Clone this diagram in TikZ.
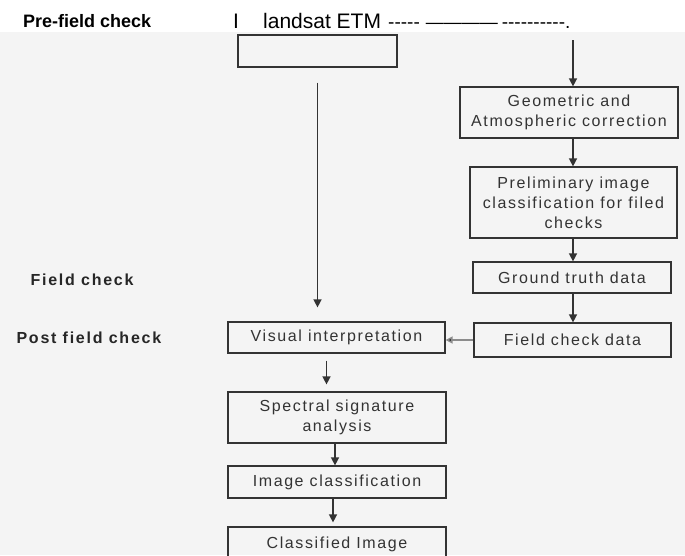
\documentclass[tikz,border=0pt]{standalone}
\usepackage{fontspec}
\setmainfont{Liberation Sans}
\newfontfamily\boxfont[LetterSpace=10]{Liberation Sans}
\newfontfamily\phasefont[LetterSpace=11]{Liberation Sans}
\usepackage{tikz}
\usetikzlibrary{arrows.meta}
\definecolor{scan}{HTML}{F4F4F4}
\definecolor{ink}{HTML}{333333}
\tikzset{
	stage/.style={draw=ink,line width=1.2pt,text=ink,align=center,inner sep=0pt,
		font=\boxfont\fontsize{16}{20}\selectfont},
	flow/.style={draw=ink,line width=1.4pt,-{Triangle[length=8pt,width=8pt]}},
	phase/.style={anchor=west,text=black!85,font=\phasefont\bfseries\fontsize{16}{20}\selectfont}
}

\begin{document}
\begin{tikzpicture}[x=1pt,y=-1pt]
	\useasboundingbox (0,0) rectangle (685,555);
	\fill[scan] (0,32) rectangle (685,555);
%	top line of the page
	\node[anchor=base west,inner sep=0pt,font=\bfseries\fontsize{18}{20}\selectfont] (pre) at (23,27) {Pre-field check};
	\node[anchor=base west,inner sep=0pt,font=\fontsize{21}{24}\selectfont] (bar) at (233,28) {I};
	\node[anchor=base west,inner sep=0pt,font=\fontsize{21}{24}\selectfont] (sat) at (263,28) {landsat ETM};
	\node[anchor=base west,inner sep=0pt,font=\fontsize{19}{22}\selectfont] (dashes) at (388,28)
		{-{}-{}-{}-{}-\hspace{6pt}{\fontsize{18}{22}\selectfont————}\hspace{4pt}-{}-{}-{}-{}-{}-{}-{}-{}-{}-.};
	\node[phase] (field) at (27,280) {Field check};
	\node[phase] (post) at (13,338) {Post field check};
%	right column
	\coordinate (src) at (573,40);
	\node[stage,minimum width=218pt,minimum height=51pt] (geo) at (569,112.5) {Geometric and\\Atmospheric correction};
	\node[stage,minimum width=207pt,minimum height=71pt] (prelim) at (573.5,202.5) {Preliminary image\\classification for filed\\checks};
	\node[stage,minimum width=198pt,minimum height=31pt] (ground) at (572,277.5) {Ground truth data};
	\node[stage,minimum width=197pt,minimum height=34pt] (fcheck) at (572.5,340) {Field check data};
%	left column
	\node[stage,minimum width=159pt,minimum height=32pt] (etm) at (317.5,51) {};
	\node[stage,minimum width=217pt,minimum height=31pt] (visual) at (336.5,337.5) {Visual interpretation};
	\node[stage,minimum width=218pt,minimum height=51pt] (spectral) at (337,417.5) {Spectral signature\\analysis};
	\node[stage,minimum width=218pt,minimum height=32pt] (imgclass) at (337,482) {Image classification};
	\node[stage,minimum width=218pt,minimum height=34pt] (classified) at (337,544) {Classified Image};
%	arrows
	\draw[flow] (src) -- (src |- geo.north);
	\foreach \a/\b in {geo/prelim,prelim/ground,ground/fcheck}{
		\draw[flow] (\a.south -| src) -- (\b.north -| src);}
	\draw[flow,draw=black!45,-{Triangle[length=7pt,width=7pt,fill=ink]}] (fcheck.west) -- (fcheck.west -| visual.east);
	\draw[flow,shorten <=15pt,shorten >=14pt] (etm.south) -- (etm.south |- visual.north);
	\draw[flow,shorten <=7pt,shorten >=7pt] ([xshift=-10pt]visual.south) -- ([xshift=-10pt]visual.south |- spectral.north);
	\draw[flow] ([xshift=-2pt]spectral.south) -- ([xshift=-2pt]imgclass.north);
	\draw[flow,shorten >=4pt] ([xshift=-4pt]imgclass.south) -- ([xshift=-4pt]classified.north);
\end{tikzpicture}
\end{document}
